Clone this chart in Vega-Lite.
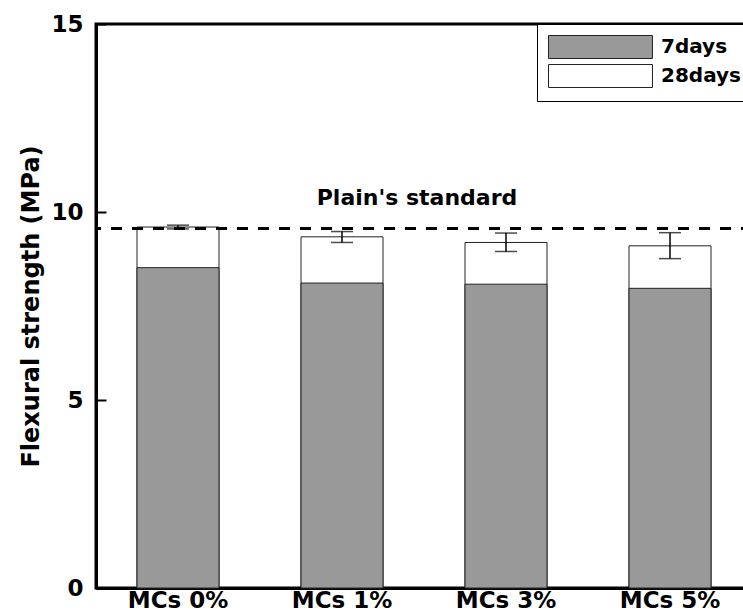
{
  "$schema": "https://vega.github.io/schema/vega-lite/v6.json",
  "width": 656,
  "height": 564,
  "padding": {"left": 19, "top": 13, "right": 0, "bottom": 0},
  "background": "white",
  "config": {
    "font": "DejaVu Sans",
    "view": {"stroke": "black", "strokeWidth": 3},
    "axis": {"grid": false, "domainColor": "black", "domainWidth": 3, "labelColor": "black", "titleColor": "black", "tickColor": "black"}
  },
  "datasets": {
    "bars": [
      {"group": "MCs 0%", "age": "28days", "value": 9.6},
      {"group": "MCs 1%", "age": "28days", "value": 9.34},
      {"group": "MCs 3%", "age": "28days", "value": 9.19},
      {"group": "MCs 5%", "age": "28days", "value": 9.1},
      {"group": "MCs 0%", "age": "7days", "value": 8.52},
      {"group": "MCs 1%", "age": "7days", "value": 8.11},
      {"group": "MCs 3%", "age": "7days", "value": 8.08},
      {"group": "MCs 5%", "age": "7days", "value": 7.97}
    ],
    "err": [
      {"group": "MCs 0%", "lo": 9.55, "hi": 9.65},
      {"group": "MCs 1%", "lo": 9.19, "hi": 9.48},
      {"group": "MCs 3%", "lo": 8.95, "hi": 9.44},
      {"group": "MCs 5%", "lo": 8.76, "hi": 9.45}
    ],
    "std": [{"group": "MCs 1%", "label": "Plain's standard", "value": 9.56, "pos": 10.37}]
  },
  "layer": [
    {
      "data": {"name": "bars"},
      "mark": {"type": "bar", "stroke": "#222222", "strokeWidth": 1},
      "encoding": {
        "x": {
          "field": "group", "type": "nominal", "sort": null,
          "scale": {"paddingInner": 0.5, "paddingOuter": 0.25},
          "axis": {"title": null, "labelAngle": 0, "ticks": false, "labelFontSize": 23, "labelFontWeight": "bold", "labelPadding": 1}
        },
        "y": {
          "field": "value", "type": "quantitative", "stack": null,
          "scale": {"domain": [0, 15], "nice": false},
          "axis": {"values": [0, 5, 10, 15], "title": "Flexural strength (MPa)", "titleFontSize": 24, "titleFontWeight": "bold", "titlePadding": 7, "labelFontSize": 23, "labelFontWeight": "bold", "tickSize": -10, "tickWidth": 2, "labelPadding": 23}
        },
        "color": {
          "field": "age", "type": "nominal",
          "scale": {"domain": ["7days", "28days"], "range": ["#999999", "#ffffff"]},
          "legend": {
            "title": null, "orient": "top-right", "offset": 0,
            "symbolType": "M-1,-1H8.04V1H-1Z", "symbolSize": 529,
            "symbolStrokeColor": "#222222", "symbolStrokeWidth": 1, "symbolOpacity": 1,
            "labelFontSize": 20, "labelFontWeight": "bold", "labelColor": "black", "labelOffset": 89,
            "padding": 11, "rowPadding": 1, "strokeColor": "black", "fillColor": "white"
          }
        }
      }
    },
    {
      "data": {"name": "err"},
      "mark": {"type": "rule", "color": "black", "strokeWidth": 1.5},
      "encoding": {
        "x": {"field": "group", "type": "nominal", "sort": null},
        "y": {"field": "lo", "type": "quantitative"},
        "y2": {"field": "hi"}
      }
    },
    {
      "data": {"name": "err"},
      "mark": {"type": "tick", "color": "black", "thickness": 1.5, "size": 22},
      "encoding": {
        "x": {"field": "group", "type": "nominal", "sort": null},
        "y": {"field": "lo", "type": "quantitative"}
      }
    },
    {
      "data": {"name": "err"},
      "mark": {"type": "tick", "color": "black", "thickness": 1.5, "size": 22},
      "encoding": {
        "x": {"field": "group", "type": "nominal", "sort": null},
        "y": {"field": "hi", "type": "quantitative"}
      }
    },
    {
      "data": {"name": "std"},
      "mark": {"type": "rule", "color": "black", "strokeWidth": 3, "strokeDash": [11, 10]},
      "encoding": {
        "y": {"field": "value", "type": "quantitative"}
      }
    },
    {
      "data": {"name": "std"},
      "mark": {"type": "text", "fontSize": 22, "fontWeight": "bold", "color": "black", "baseline": "middle", "align": "center", "dx": 75},
      "encoding": {
        "x": {"field": "group", "type": "nominal", "sort": null},
        "y": {"field": "pos", "type": "quantitative"},
        "text": {"field": "label"}
      }
    }
  ]
}
